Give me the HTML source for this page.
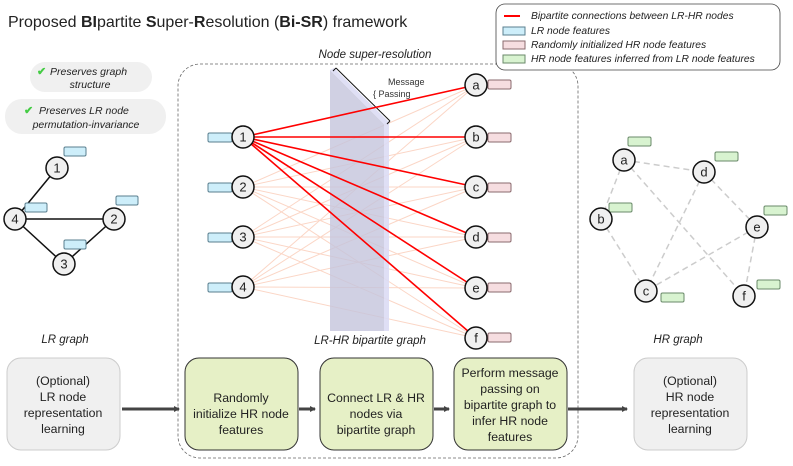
<!DOCTYPE html>
<html><head><meta charset="utf-8"><style>
html,body{margin:0;padding:0;background:#fff}
svg{display:block;font-family:"Liberation Sans",sans-serif}
</style></head><body>
<svg width="793" height="466" viewBox="0 0 793 466" xmlns="http://www.w3.org/2000/svg">
<defs>
<marker id="ar" markerWidth="6" markerHeight="6" refX="5" refY="3" orient="auto" markerUnits="userSpaceOnUse"><path d="M0,0 L6,3 L0,6 z" fill="#444"/></marker>
</defs>
<text x="8" y="27" font-size="16" fill="#222">Proposed <tspan font-weight="bold">BI</tspan>partite <tspan font-weight="bold">S</tspan>uper-<tspan font-weight="bold">R</tspan>esolution (<tspan font-weight="bold">Bi-SR</tspan>) framework</text>

<!-- pills -->
<rect x="30" y="62" width="122" height="30" rx="15" fill="#f0f0f0"/>
<text x="37" y="75" font-size="11" fill="#4c4" font-weight="bold">✔</text>
<text x="50" y="75" font-size="10.5" font-style="italic" fill="#222">Preserves graph</text>
<text x="90" y="88" font-size="10.5" font-style="italic" fill="#222" text-anchor="middle">structure</text>
<rect x="5" y="99" width="161" height="35" rx="17" fill="#f0f0f0"/>
<text x="24" y="114" font-size="11" fill="#4c4" font-weight="bold">✔</text>
<text x="39" y="114" font-size="10.5" font-style="italic" fill="#222">Preserves LR node</text>
<text x="86" y="128" font-size="10.5" font-style="italic" fill="#222" text-anchor="middle">permutation-invariance</text>

<!-- LR graph -->
<g stroke="#111" stroke-width="1.5">
<line x1="57" y1="168" x2="15" y2="219"/><line x1="15" y1="219" x2="114" y2="219"/>
<line x1="15" y1="219" x2="64" y2="264"/><line x1="64" y1="264" x2="114" y2="219"/>
</g>
<g fill="#cdeefa" stroke="#5a7f8f" stroke-width="1">
<rect x="64" y="147" width="22" height="9" rx="1.5"/><rect x="116" y="196" width="22" height="9" rx="1.5"/>
<rect x="64" y="240" width="22" height="9" rx="1.5"/><rect x="25" y="203" width="22" height="9" rx="1.5"/>
</g>
<g fill="#f0f0f0" stroke="#111" stroke-width="1.5">
<circle cx="57" cy="168" r="11"/><circle cx="114" cy="219" r="11"/><circle cx="64" cy="264" r="11"/><circle cx="15" cy="219" r="11"/>
</g>
<g font-size="13" text-anchor="middle" fill="#222">
<text x="57" y="172.5">1</text><text x="114" y="223.5">2</text><text x="64" y="268.5">3</text><text x="15" y="223.5">4</text>
</g>
<text x="65" y="343" font-size="11.5" font-style="italic" text-anchor="middle" fill="#222">LR graph</text>

<!-- dashed box -->
<rect x="178" y="64" width="400" height="394" rx="22" fill="none" stroke="#666" stroke-dasharray="3,2" stroke-width="0.8"/>
<rect x="315" y="48" width="130" height="12" fill="#fff"/>
<text x="375" y="58" font-size="11.5" font-style="italic" text-anchor="middle" fill="#222">Node super-resolution</text>

<!-- faint edges -->
<g stroke="#fbd6c6" stroke-width="1">
<line x1="243" y1="137" x2="476" y2="85"/><line x1="243" y1="137" x2="476" y2="137"/><line x1="243" y1="137" x2="476" y2="187"/><line x1="243" y1="137" x2="476" y2="237"/><line x1="243" y1="137" x2="476" y2="288"/><line x1="243" y1="137" x2="476" y2="338"/>
<line x1="243" y1="187" x2="476" y2="85"/><line x1="243" y1="187" x2="476" y2="137"/><line x1="243" y1="187" x2="476" y2="187"/><line x1="243" y1="187" x2="476" y2="237"/><line x1="243" y1="187" x2="476" y2="288"/><line x1="243" y1="187" x2="476" y2="338"/>
<line x1="243" y1="237" x2="476" y2="85"/><line x1="243" y1="237" x2="476" y2="137"/><line x1="243" y1="237" x2="476" y2="187"/><line x1="243" y1="237" x2="476" y2="237"/><line x1="243" y1="237" x2="476" y2="288"/><line x1="243" y1="237" x2="476" y2="338"/>
<line x1="243" y1="287" x2="476" y2="85"/><line x1="243" y1="287" x2="476" y2="137"/><line x1="243" y1="287" x2="476" y2="187"/><line x1="243" y1="287" x2="476" y2="237"/><line x1="243" y1="287" x2="476" y2="288"/><line x1="243" y1="287" x2="476" y2="338"/>
</g>
<!-- plane -->
<polygon points="330,70 384,124 384,331 330,331" fill="#c4c4dc" fill-opacity="0.8"/>
<polygon points="330,70 334,68 389,122 389,331 384,331 384,124" fill="#dcdcf4" fill-opacity="0.9"/>
<line x1="336" y1="68" x2="390" y2="121" stroke="#111" stroke-width="1"/>
<line x1="336" y1="68" x2="333" y2="71" stroke="#111"/><line x1="390" y1="121" x2="387" y2="124" stroke="#111"/>
<text x="388" y="85" font-size="9" fill="#333">Message</text>
<text x="373" y="97" font-size="9" fill="#333">{ Passing</text>

<!-- red edges -->
<g stroke="#f00" stroke-width="1.6">
<line x1="243" y1="137" x2="476" y2="85"/><line x1="243" y1="137" x2="476" y2="137"/><line x1="243" y1="137" x2="476" y2="187"/><line x1="243" y1="137" x2="476" y2="237"/><line x1="243" y1="137" x2="476" y2="288"/><line x1="243" y1="137" x2="476" y2="338"/>
</g>
<g fill="#cdeefa" stroke="#5a7f8f">
<rect x="208" y="133" width="24" height="9" rx="1.5"/><rect x="208" y="183" width="24" height="9" rx="1.5"/><rect x="208" y="233" width="24" height="9" rx="1.5"/><rect x="208" y="283" width="24" height="9" rx="1.5"/>
</g>
<g fill="#f6dde0" stroke="#8a6a6e">
<rect x="488" y="80" width="23" height="9" rx="1.5"/><rect x="488" y="133" width="23" height="9" rx="1.5"/><rect x="488" y="183" width="23" height="9" rx="1.5"/><rect x="488" y="233" width="23" height="9" rx="1.5"/><rect x="488" y="283" width="23" height="9" rx="1.5"/><rect x="488" y="333" width="23" height="9" rx="1.5"/>
</g>
<g fill="#f0f0f0" stroke="#111" stroke-width="1.5">
<circle cx="243" cy="137" r="11"/><circle cx="243" cy="187" r="11"/><circle cx="243" cy="237" r="11"/><circle cx="243" cy="287" r="11"/>
<circle cx="476" cy="85" r="11"/><circle cx="476" cy="137" r="11"/><circle cx="476" cy="187" r="11"/><circle cx="476" cy="237" r="11"/><circle cx="476" cy="288" r="11"/><circle cx="476" cy="338" r="11"/>
</g>
<g font-size="13" text-anchor="middle" fill="#222">
<text x="243" y="141.5">1</text><text x="243" y="191.5">2</text><text x="243" y="241.5">3</text><text x="243" y="291.5">4</text>
<text x="476" y="89.5">a</text><text x="476" y="141.5">b</text><text x="476" y="191.5">c</text><text x="476" y="241.5">d</text><text x="476" y="292.5">e</text><text x="476" y="342.5">f</text>
</g>
<text x="370" y="344" font-size="11.5" font-style="italic" text-anchor="middle" fill="#222">LR-HR bipartite graph</text>

<!-- legend -->
<rect x="496" y="4" width="284" height="66" rx="9" fill="#fff" stroke="#444" stroke-width="0.8"/>
<line x1="504" y1="16" x2="520" y2="16" stroke="#f00" stroke-width="2"/>
<rect x="503" y="27" width="22" height="8" fill="#cdeefa" stroke="#5a7f8f"/>
<rect x="503" y="41" width="22" height="8" fill="#f6dde0" stroke="#8a6a6e"/>
<rect x="503" y="55" width="22" height="8" fill="#d8f3d0" stroke="#6a8a6a"/>
<g font-size="10.3" font-style="italic" fill="#222">
<text x="531" y="19">Bipartite connections between LR-HR nodes</text>
<text x="531" y="34">LR node features</text>
<text x="531" y="48">Randomly initialized HR node features</text>
<text x="531" y="62">HR node features inferred from LR node features</text>
</g>

<!-- HR graph -->
<g stroke="#ccc" stroke-width="1.5" stroke-dasharray="6,4">
<line x1="624" y1="160" x2="704" y2="172"/><line x1="624" y1="160" x2="601" y2="219"/><line x1="624" y1="160" x2="744" y2="296"/>
<line x1="704" y1="172" x2="757" y2="227"/><line x1="704" y1="172" x2="646" y2="291"/>
<line x1="601" y1="219" x2="646" y2="291"/><line x1="757" y1="227" x2="646" y2="291"/><line x1="757" y1="227" x2="744" y2="296"/>
</g>
<g fill="#d8f3d0" stroke="#6a8a6a">
<rect x="628" y="137" width="23" height="9" rx="1.5"/><rect x="715" y="152" width="23" height="9" rx="1.5"/><rect x="609" y="203" width="23" height="9" rx="1.5"/>
<rect x="764" y="206" width="23" height="9" rx="1.5"/><rect x="661" y="293" width="23" height="9" rx="1.5"/><rect x="757" y="280" width="23" height="9" rx="1.5"/>
</g>
<g fill="#f0f0f0" stroke="#111" stroke-width="1.5">
<circle cx="624" cy="160" r="11"/><circle cx="704" cy="172" r="11"/><circle cx="601" cy="219" r="11"/><circle cx="757" cy="227" r="11"/><circle cx="646" cy="291" r="11"/><circle cx="744" cy="296" r="11"/>
</g>
<g font-size="13" text-anchor="middle" fill="#222">
<text x="624" y="164.5">a</text><text x="704" y="176.5">d</text><text x="601" y="223.5">b</text><text x="757" y="231.5">e</text><text x="646" y="295.5">c</text><text x="744" y="300.5">f</text>
</g>
<text x="678" y="343" font-size="11.5" font-style="italic" text-anchor="middle" fill="#222">HR graph</text>

<!-- bottom boxes -->
<rect x="7" y="358" width="113" height="92" rx="14" fill="#f0f0f0" stroke="#ccc"/>
<rect x="185" y="358" width="113" height="92" rx="14" fill="#e6f0c6" stroke="#333"/>
<rect x="320" y="358" width="113" height="92" rx="14" fill="#e6f0c6" stroke="#333"/>
<rect x="454" y="358" width="113" height="92" rx="14" fill="#e6f0c6" stroke="#333"/>
<rect x="634" y="358" width="113" height="92" rx="14" fill="#f0f0f0" stroke="#ccc"/>
<g font-size="12.3" text-anchor="middle" fill="#222">
<text x="63" y="385">(Optional)</text><text x="63" y="401">LR node</text><text x="63" y="417">representation</text><text x="63" y="433">learning</text>
<text x="241" y="402">Randomly</text><text x="241" y="418">initialize HR node</text><text x="241" y="434">features</text>
<text x="376" y="402">Connect LR &amp; HR</text><text x="376" y="418">nodes via</text><text x="376" y="434">bipartite graph</text>
<text x="510" y="377">Perform message</text><text x="510" y="393">passing on</text><text x="510" y="409">bipartite graph to</text><text x="510" y="425">infer HR node</text><text x="510" y="441">features</text>
<text x="690" y="385">(Optional)</text><text x="690" y="401">HR node</text><text x="690" y="417">representation</text><text x="690" y="433">learning</text>
</g>
<g stroke="#444" stroke-width="3" marker-end="url(#ar)">
<line x1="122" y1="409" x2="179" y2="409"/><line x1="299" y1="409" x2="315" y2="409"/><line x1="434" y1="409" x2="449" y2="409"/><line x1="568" y1="409" x2="627" y2="409"/>
</g>
</svg>
</body></html>
